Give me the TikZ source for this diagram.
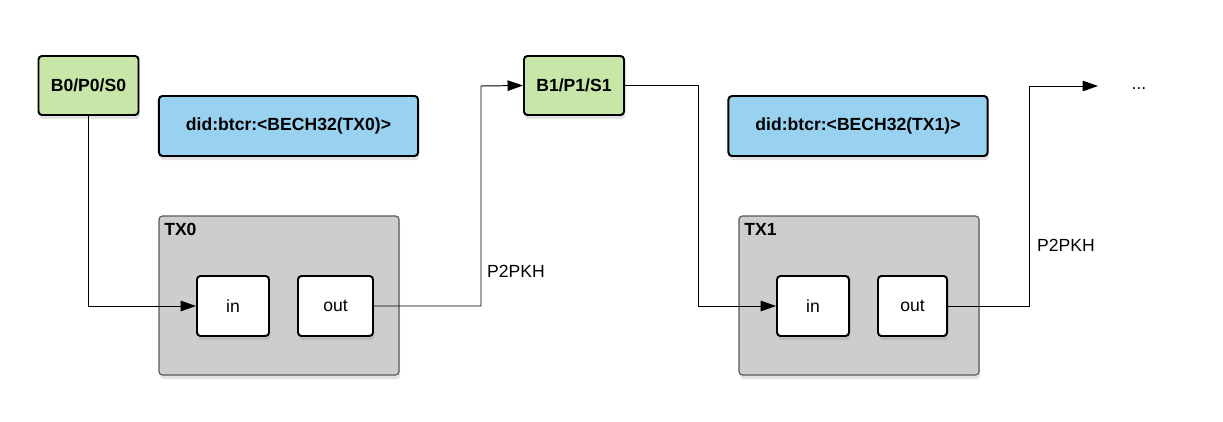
\documentclass[tikz,border=0pt]{standalone}
\usepackage{fontspec}
\setmainfont{Liberation Sans}
\usetikzlibrary{shadows,arrows.meta}

\definecolor{keygreen}{RGB}{199,230,168}
\definecolor{didblue}{RGB}{153,209,240}
\definecolor{txgray}{RGB}{205,205,205}

\tikzset{
  shade box/.style={rounded corners=2.5pt, drop shadow={shadow xshift=0.8pt, shadow yshift=-3pt, opacity=0.22}},
  keybox/.style={shade box, draw, line width=1.4pt, fill=keygreen, minimum width=2.5cm, minimum height=1.475cm, font=\fontsize{12.5}{15}\selectfont\bfseries},
  didbox/.style={shade box, draw, line width=1.4pt, fill=didblue, minimum width=6.475cm, minimum height=1.5cm, font=\fontsize{12.5}{15}\selectfont\bfseries},
  txbox/.style={shade box, draw=black!65, line width=0.8pt, fill=txgray, minimum width=6cm, minimum height=3.975cm},
  iobox/.style={shade box, draw, line width=1.4pt, fill=white, minimum width=1.8cm, minimum height=1.5cm, font=\fontsize{12.5}{15}\selectfont},
  plain text/.style={font=\fontsize{12.5}{15}\selectfont},
  flow/.style={line width=0.7pt, -{Triangle[length=11pt,width=7.5pt]}}
}

\begin{document}
\begin{tikzpicture}[x=0.025cm, y=-0.025cm]
        \useasboundingbox (0,0) rectangle (1223,421);

        % draw first block
        \node[keybox] (b0) at (88.5,85.5) {B0/P0/S0};
        \node[didbox] (did0) at (288.5,126) {did:btcr:<BECH32(TX0)>};
        \node[txbox] (tx0) at (279,295.5) {};
        \node[anchor=north west, inner sep=0pt, font=\fontsize{12.5}{15}\selectfont\bfseries] (tx0label) at (164,223) {TX0};
        \node[iobox] (in0) at (233,306) {in};
        \node[iobox, minimum width=1.875cm] (out0) at (335.5,306) {out};

        % draw second block
        \node[keybox] (b1) at (574,85.5) {B1/P1/S1};
        \node[didbox] (did1) at (858,126) {did:btcr:<BECH32(TX1)>};
        \node[txbox] (tx1) at (859,295.5) {};
        \node[anchor=north west, inner sep=0pt, font=\fontsize{12.5}{15}\selectfont\bfseries] (tx1label) at (744,223) {TX1};
        \node[iobox] (in1) at (813,306) {in};
        \node[iobox, minimum width=1.725cm] (out1) at (912.5,306) {out};

        % draw bends and loose ends
        \coordinate (bend0) at (481,86);
        \coordinate (bend1) at (698,306);
        \coordinate (bend2) at (1029,86);
        \coordinate (next) at (1098,86);
        \node[plain text] (dots) at (1139,89) {...};
        \node[plain text] (p2pkh0) at (516,271) {P2PKH};
        \node[plain text] (p2pkh1) at (1066,245) {P2PKH};

        % draw connectors
        \draw[flow] (b0.south) |- (in0.west);
        \draw[flow] (out0.east) -| (bend0) -- (b1.west);
        \draw[flow] (b1.east) -| (bend1) -- (in1.west);
        \draw[flow] (out1.east) -| (bend2) -- (next);
    \end{tikzpicture}
\end{document}
